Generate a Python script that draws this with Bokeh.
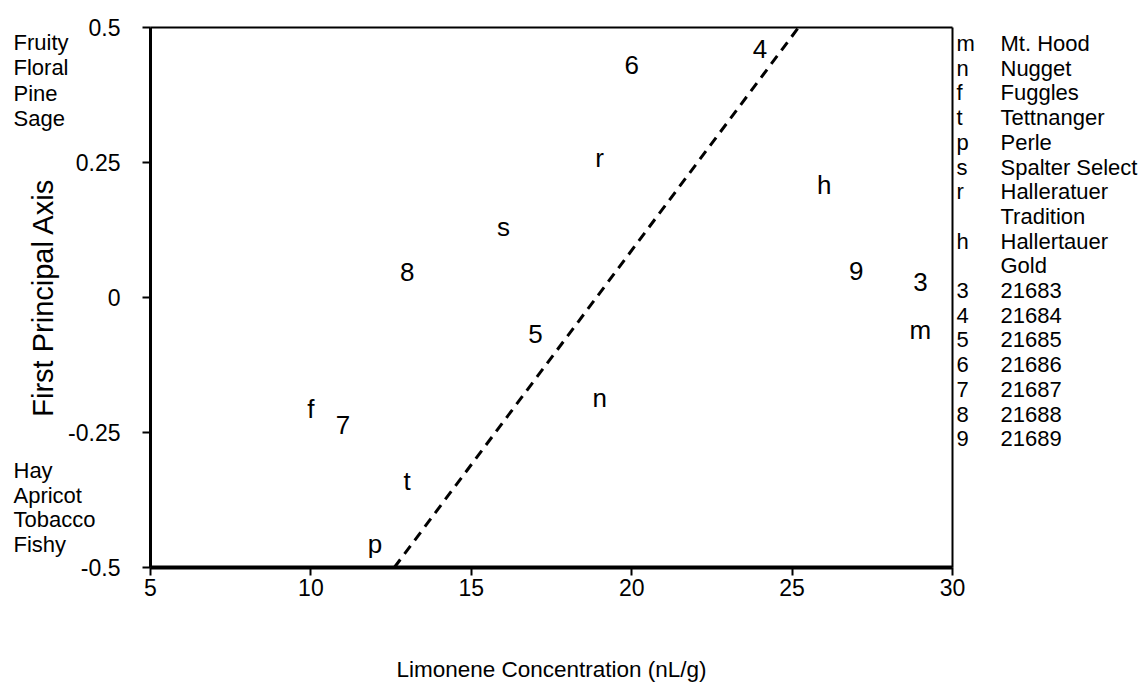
from bokeh.plotting import figure
from bokeh.models import Label, FixedTicker, ColumnDataSource, Range1d, LinearAxis
from bokeh.core.properties import value
from bokeh.embed import file_html
from bokeh.resources import INLINE

# ---------------- data ----------------
point_codes = ["6", "4", "r", "h", "s", "8", "9", "3", "m", "5", "n", "f", "7", "t", "p"]
point_x = [20, 24, 19, 26, 16, 13, 27, 29, 29, 17, 19, 10, 11, 13, 12]
point_y = [0.43, 0.461, 0.259, 0.209, 0.131, 0.048, 0.05, 0.028, -0.061, -0.067,
           -0.187, -0.206, -0.237, -0.339, -0.456]

fit_x = [12.6, 25.2]
fit_y = [-0.5, 0.5]

x_ticks = [5, 10, 15, 20, 25, 30]
y_ticks = [-0.5, -0.25, 0, 0.25, 0.5]
y_tick_labels = ["-0.5", "-0.25", "0", "0.25", "0.5"]

top_descriptors = ["Fruity", "Floral", "Pine", "Sage"]
bottom_descriptors = ["Hay", "Apricot", "Tobacco", "Fishy"]

legend_codes = ["m", "n", "f", "t", "p", "s", "r", "", "h", "", "3", "4", "5", "6", "7", "8", "9"]
legend_names = ["Mt. Hood", "Nugget", "Fuggles", "Tettnanger", "Perle", "Spalter Select",
                "Halleratuer", "Tradition", "Hallertauer", "Gold",
                "21683", "21684", "21685", "21686", "21687", "21688", "21689"]

x_title = "Limonene Concentration (nL/g)"
y_title = "First Principal Axis"

# ---------------- layout constants ----------------
W, H = 1148, 689
FL, FR, FT, FB = 150, 952, 27, 567          # pixel box of the plotting area
XMIN, XMAX, YMIN, YMAX = 5, 30, -0.5, 0.5
FONT = "Liberation Sans"
SIDE_FS = "22px"


def px_to_x(px):
    return XMIN + (px - FL) * (XMAX - XMIN) / (FR - FL)


def py_to_y(py):
    return YMAX - (py - FT) * (YMAX - YMIN) / (FB - FT)


# the frame covers the whole canvas; the axes are pinned at the data box edges
p = figure(width=W, height=H, output_backend="svg", toolbar_location=None,
           x_range=Range1d(px_to_x(0), px_to_x(W)), y_range=Range1d(py_to_y(H), py_to_y(0)),
           min_border=0, x_axis_location=None, y_axis_location=None)
p.background_fill_color = "white"
p.border_fill_color = "white"
p.outline_line_color = None
p.xgrid.visible = False
p.ygrid.visible = False


def style_axis(ax):
    ax.minor_tick_line_color = None
    ax.major_tick_in = 0
    ax.major_tick_out = 8
    ax.major_tick_line_width = 2
    ax.major_tick_line_color = "black"
    ax.axis_line_color = "black"
    ax.major_label_text_font = FONT
    ax.major_label_text_font_size = "23px"
    ax.major_label_text_color = "black"
    ax.axis_label_text_font = FONT
    ax.axis_label_text_font_style = "normal"
    ax.axis_label_text_color = "black"


xaxis = LinearAxis(fixed_location=YMIN, bounds=(XMIN, XMAX),
                   ticker=FixedTicker(ticks=x_ticks), axis_label=x_title)
style_axis(xaxis)
xaxis.axis_line_width = 4
xaxis.major_label_standoff = 3
xaxis.axis_label_text_font_size = "22.5px"
xaxis.axis_label_standoff = 58
p.add_layout(xaxis, "below")

yaxis = LinearAxis(fixed_location=XMIN, bounds=(YMIN, YMAX),
                   ticker=FixedTicker(ticks=y_ticks), axis_label=y_title)
style_axis(yaxis)
yaxis.major_label_overrides = {t: l for t, l in zip(y_ticks, y_tick_labels)}
yaxis.axis_line_width = 3
yaxis.major_label_standoff = 22
yaxis.axis_label_text_font_size = "29px"
yaxis.axis_label_standoff = 6
p.add_layout(yaxis, "left")

# top and right borders of the box
top_axis = LinearAxis(fixed_location=YMAX, bounds=(XMIN, XMAX), ticker=FixedTicker(ticks=[]))
right_axis = LinearAxis(fixed_location=XMAX, bounds=(YMIN, YMAX), ticker=FixedTicker(ticks=[]))
for ax in (top_axis, right_axis):
    ax.axis_line_color = "black"
    ax.axis_line_width = 2
    ax.major_tick_line_color = None
    ax.minor_tick_line_color = None
    ax.major_label_text_color = None
p.add_layout(top_axis, "above")
p.add_layout(right_axis, "right")

# fit line
p.line(fit_x, fit_y, line_color="black", line_width=3, line_dash="10 7")

# point labels
src = ColumnDataSource(dict(x=point_x, y=point_y, code=point_codes))
p.text(x="x", y="y", text="code", source=src,
       text_font=value(FONT), text_font_size=value("26px"),
       text_align="center", text_baseline="middle", text_color="black")


def side_label(px, py, text):
    return Label(x=px_to_x(px), y=py_to_y(py), text=text,
                 text_font=FONT, text_font_size=SIDE_FS,
                 text_align="left", text_baseline="middle", text_color="black")


# descriptor texts on the left
for i, t in enumerate(top_descriptors):
    p.add_layout(side_label(13, 42 + 25.3 * i, t))
for i, t in enumerate(bottom_descriptors):
    p.add_layout(side_label(13, 470 + 24.7 * i, t))

# legend on the right
for i, (c, n) in enumerate(zip(legend_codes, legend_names)):
    py = 43 + 24.7 * i
    if c:
        p.add_layout(side_label(956, py, c))
    p.add_layout(side_label(1000, py, n))

open("out.html", "w").write(file_html(p, INLINE))
